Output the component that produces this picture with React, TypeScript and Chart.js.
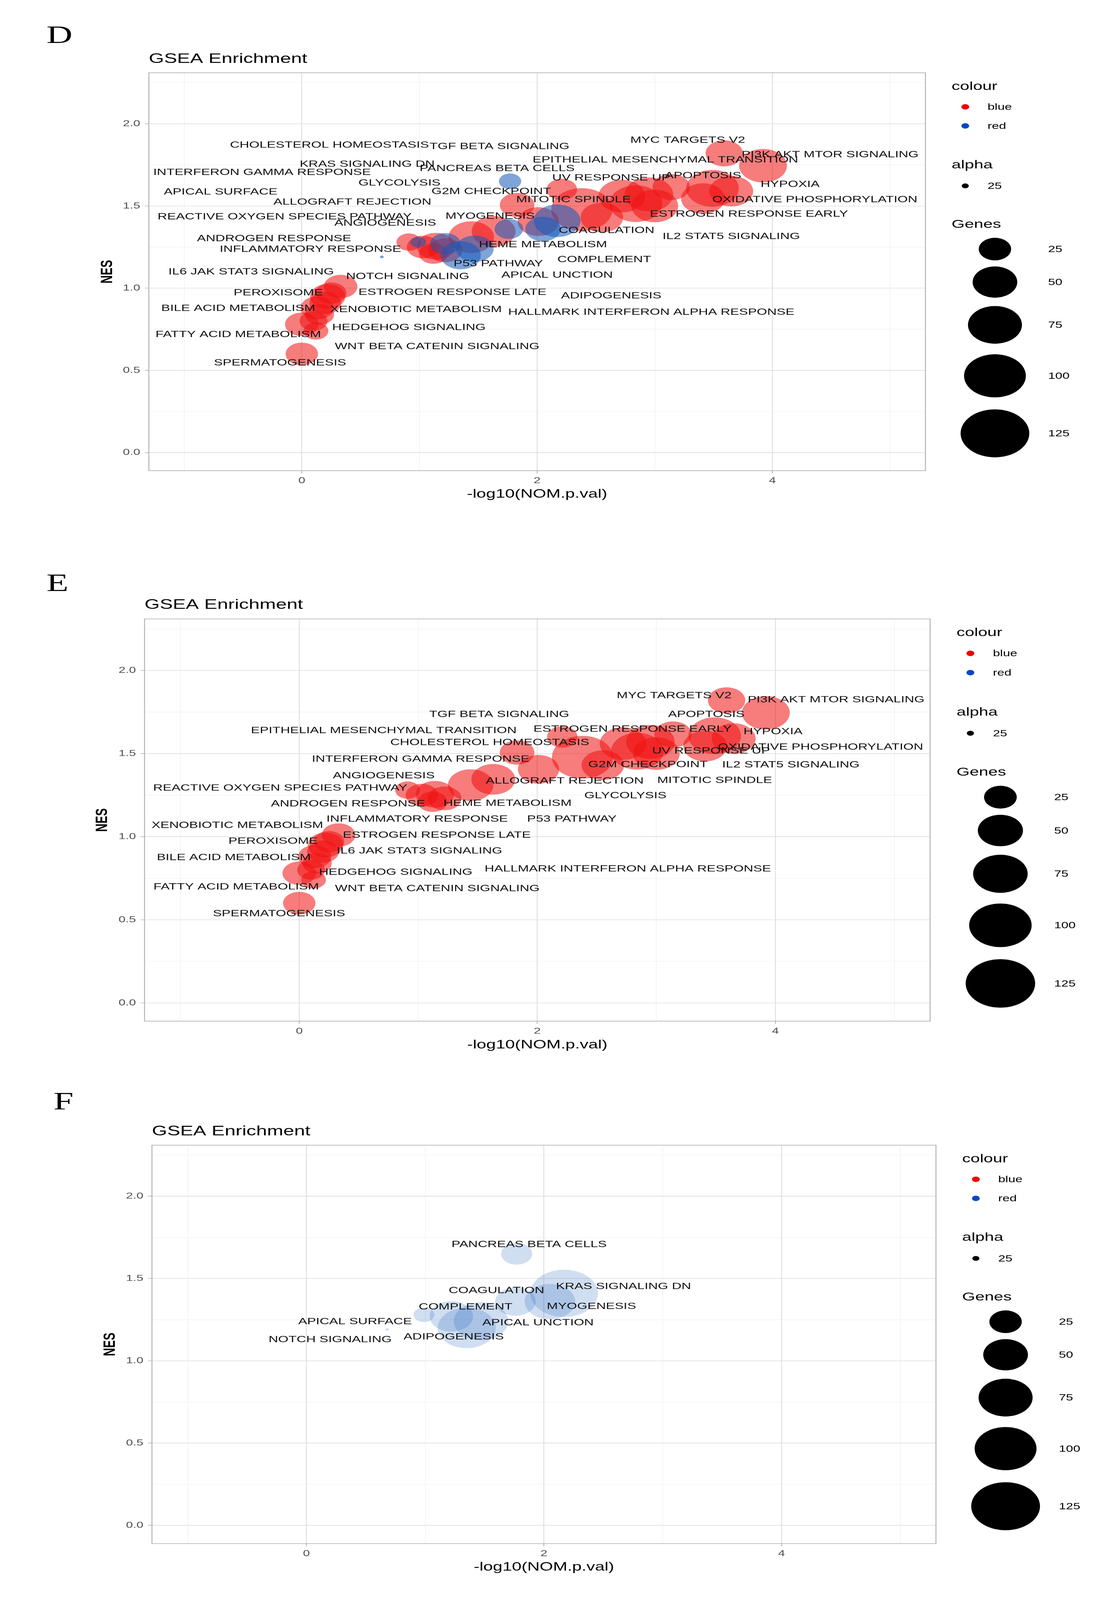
import React, { useEffect, useRef } from "react";
import { Chart, registerables } from "chart.js";

Chart.register(...registerables);

// ---------------- DATA ----------------
const SETS = [
  "MYC TARGETS V2", "PI3K AKT MTOR SIGNALING", "APOPTOSIS", "HYPOXIA", "OXIDATIVE PHOSPHORYLATION",
  "UV RESPONSE UP", "ESTROGEN RESPONSE EARLY", "IL2 STAT5 SIGNALING", "G2M CHECKPOINT", "MITOTIC SPINDLE",
  "EPITHELIAL MESENCHYMAL TRANSITION", "TGF BETA SIGNALING", "GLYCOLYSIS", "ALLOGRAFT REJECTION", "CHOLESTEROL HOMEOSTASIS",
  "INTERFERON GAMMA RESPONSE", "ANGIOGENESIS", "HEME METABOLISM", "REACTIVE OXYGEN SPECIES PATHWAY", "ANDROGEN RESPONSE",
  "INFLAMMATORY RESPONSE", "P53 PATHWAY", "XENOBIOTIC METABOLISM", "PEROXISOME", "ESTROGEN RESPONSE LATE",
  "BILE ACID METABOLISM", "IL6 JAK STAT3 SIGNALING", "HALLMARK INTERFERON ALPHA RESPONSE", "HEDGEHOG SIGNALING", "FATTY ACID METABOLISM",
  "WNT BETA CATENIN SIGNALING", "SPERMATOGENESIS",
  "PANCREAS BETA CELLS", "KRAS SIGNALING DN", "MYOGENESIS", "COAGULATION", "COMPLEMENT",
  "APICAL SURFACE", "APICAL UNCTION", "NOTCH SIGNALING", "ADIPOGENESIS",
];

const NEG_LOG10_P = [
  3.59, 3.92, 3.14, 3.65, 3.49, 3.41, 2.95, 3.0, 2.84, 2.72,
  2.38, 2.21, 2.55, 2.01, 1.83, 1.63, 1.44, 1.14, 0.91, 1.03,
  1.12, 1.22, 0.25, 0.22, 0.33, 0.13, 0.2, 0.15, 0.1, 0.0,
  0.12, 0.0,
  1.77, 2.17, 2.05, 1.76, 1.22, 0.99, 1.47, 0.68, 1.35,
];

const NES = [
  1.82, 1.745, 1.615, 1.59, 1.607, 1.545, 1.57, 1.5, 1.514, 1.56,
  1.478, 1.6, 1.43, 1.405, 1.506, 1.345, 1.31, 1.255, 1.28, 1.25,
  1.21, 1.23, 0.97, 0.95, 1.01, 0.88, 0.91, 0.84, 0.8, 0.78,
  0.74, 0.6,
  1.65, 1.41, 1.36, 1.36, 1.27, 1.28, 1.24, 1.19, 1.2,
];

const GENES = [
  34, 58, 34, 48, 71, 48, 60, 55, 71, 55,
  98, 22, 45, 42, 29, 48, 52, 36, 14, 25,
  20, 28, 22, 30, 27, 26, 24, 20, 18, 27,
  14, 25,
  11, 55, 30, 19, 22, 5, 35, 1, 40,
];

// legend category ("colour") of each set
const GROUP = [
  "blue", "blue", "blue", "blue", "blue", "blue", "blue", "blue", "blue", "blue",
  "blue", "blue", "blue", "blue", "blue", "blue", "blue", "blue", "blue", "blue",
  "blue", "blue", "blue", "blue", "blue", "blue", "blue", "blue", "blue", "blue",
  "blue", "blue",
  "red", "red", "red", "red", "red", "red", "red", "red", "red",
];

// label anchors (data units) for each panel, aligned with SETS
const D_LABEL_X = [
  3.28, 4.49, 3.41, 4.15, 4.36, 2.63, 3.8, 3.65, 1.61, 2.31,
  3.09, 1.68, 0.83, 0.43, 0.235, -0.338, 0.71, 2.05, -0.146, -0.235,
  0.073, 1.67, 0.97, -0.2, 1.28, -0.54, -0.43, 2.97, 0.91, -0.54,
  1.15, -0.185,
  1.66, 0.556, 1.6, 2.59, 2.57, -0.69, 2.17, 0.9, 2.63,
];
const D_LABEL_Y = [
  1.9, 1.811, 1.684, 1.631, 1.538, 1.671, 1.45, 1.315, 1.588, 1.538,
  1.78, 1.862, 1.639, 1.523, 1.869, 1.704, 1.396, 1.265, 1.434, 1.301,
  1.237, 1.149, 0.871, 0.972, 0.975, 0.877, 1.099, 0.853, 0.76, 0.717,
  0.644, 0.545,
  1.727, 1.753, 1.437, 1.351, 1.174, 1.584, 1.079, 1.071, 0.953,
];
const E_LABEL_X = [
  3.15, 4.51, 3.42, 3.98, 4.38, 3.46, 2.8, 4.13, 2.93, 3.49,
  0.71, 1.68, 2.74, 2.23, 1.6, 1.02, 0.71, 1.75, -0.16, 0.41,
  0.99, 2.29, -0.52, -0.22, 1.155, -0.55, 1.01, 2.76, 0.81, -0.53,
  1.16, -0.17,
  null, null, null, null, null, null, null, null, null,
];
const E_LABEL_Y = [
  1.848, 1.823, 1.735, 1.632, 1.539, 1.516, 1.647, 1.431, 1.434, 1.339,
  1.638, 1.735, 1.246, 1.335, 1.567, 1.467, 1.366, 1.2, 1.292, 1.197,
  1.105, 1.105, 1.068, 0.973, 1.009, 0.875, 0.914, 0.806, 0.786, 0.697,
  0.687, 0.536,
  null, null, null, null, null, null, null, null, null,
];
const F_LABEL_X = [
  null, null, null, null, null, null, null, null, null, null,
  null, null, null, null, null, null, null, null, null, null,
  null, null, null, null, null, null, null, null, null, null,
  null, null,
  1.875, 2.67, 2.4, 1.6, 1.34, 0.41, 1.95, 0.2, 1.24,
];
const F_LABEL_Y = [
  null, null, null, null, null, null, null, null, null, null,
  null, null, null, null, null, null, null, null, null, null,
  null, null, null, null, null, null, null, null, null, null,
  null, null,
  1.706, 1.451, 1.331, 1.426, 1.327, 1.238, 1.232, 1.129, 1.146,
];

const X_TICKS = [0, 2, 4];
const Y_TICKS = [0, 0.5, 1, 1.5, 2];
const GENE_BREAKS = [25, 50, 75, 100, 125];
const COLOUR_KEYS = ["blue", "red"];
const ALPHA_KEYS = ["25"];

// ---------------- STYLE / LAYOUT ----------------
const W = 2862;
const H = 5871;
const PH = 1957;
const FONT = '"Liberation Sans", Arial, Helvetica, sans-serif';
const BASE_RGB: Record<string, [number, number, number]> = {
  blue: [240, 16, 16],
  red: [20, 90, 185],
};
const KEY_COLOUR: Record<string, string> = { blue: "#f20000", red: "#0a46c4" };

type Panel = {
  letter: string;
  top: number;
  letterX: number;
  letterBaseline: number;
  area: { l: number; t: number; r: number; b: number };
  show: string;
  alpha: number;
  sizeMul: number;
  sizeAdd: number;
  lx: (number | null)[];
  ly: (number | null)[];
};

const PANELS: Panel[] = [
  { letter: "D", top: 0, letterX: 119, letterBaseline: 158, area: { l: 381, t: 267, r: 2369, b: 1727 }, show: "all", alpha: 0.55, sizeMul: 1, sizeAdd: 0, lx: D_LABEL_X, ly: D_LABEL_Y },
  { letter: "E", top: 1957, letterX: 119, letterBaseline: 211, area: { l: 370, t: 314, r: 2381, b: 1790 }, show: "blue", alpha: 0.55, sizeMul: 1, sizeAdd: 0, lx: E_LABEL_X, ly: E_LABEL_Y },
  { letter: "F", top: 3914, letterX: 137, letterBaseline: 156, area: { l: 389, t: 288, r: 2396, b: 1750 }, show: "red", alpha: 0.2, sizeMul: 1.5, sizeAdd: -6, lx: F_LABEL_X, ly: F_LABEL_Y },
];

function geneDiameter(g: number) {
  return 10 + 14.9 * Math.sqrt(Math.max(g - 1, 0));
}

function isOn(v: number, list: number[]) {
  return list.some((t) => Math.abs(t - v) < 1e-6);
}

function rgba(grp: string, a: number) {
  const c = BASE_RGB[grp];
  return `rgba(${c[0]},${c[1]},${c[2]},${a})`;
}

function makeConfig(p: Panel): any {
  const idx = SETS.map((_, i) => i).filter((i) => p.show === "all" || GROUP[i] === p.show);
  const data = idx.map((i) => ({
    x: NEG_LOG10_P[i],
    y: NES[i],
    r: (geneDiameter(GENES[i]) * p.sizeMul + p.sizeAdd) / 2,
    grp: GROUP[i],
    name: SETS[i],
  }));
  const A = p.area;
  const YW = 150;
  const XH = 120;
  const s = (A.b - A.t) / 1460;

  const decor = {
    id: "decor" + p.letter,
    afterDatasetsDraw(chart: any) {
      const ctx = chart.ctx;
      const ca = chart.chartArea;
      const xs = chart.scales.x;
      const ys = chart.scales.y;
      ctx.save();
      ctx.beginPath();
      ctx.rect(ca.left, ca.top, ca.right - ca.left, ca.bottom - ca.top);
      ctx.clip();
      ctx.fillStyle = "#111111";
      ctx.font = `34px ${FONT}`;
      ctx.textAlign = "center";
      ctx.textBaseline = "middle";
      SETS.forEach((name, i) => {
        const lx = p.lx[i];
        const ly = p.ly[i];
        if (lx === null || ly === null) return;
        ctx.fillText(name, xs.getPixelForValue(lx), ys.getPixelForValue(ly));
      });
      ctx.restore();
    },
    afterDraw(chart: any) {
      const ctx = chart.ctx;
      const ca = chart.chartArea;
      ctx.save();
      ctx.strokeStyle = "#b3b3b3";
      ctx.lineWidth = 2.5;
      ctx.strokeRect(ca.left, ca.top, ca.right - ca.left, ca.bottom - ca.top);
      ctx.fillStyle = "#000000";
      ctx.textAlign = "left";
      ctx.textBaseline = "middle";
      ctx.font = `50px ${FONT}`;
      ctx.fillText("GSEA Enrichment", ca.left, ca.top - 50 * s);
      ctx.textAlign = "center";
      ctx.font = `44px ${FONT}`;
      ctx.fillText("-log10(NOM.p.val)", (ca.left + ca.right) / 2, ca.bottom + 87 * s);
      ctx.save();
      ctx.translate(ca.left - 106 * s, (ca.top + ca.bottom) / 2);
      ctx.rotate(-Math.PI / 2);
      ctx.font = `bold 42px ${FONT}`;
      ctx.fillText("NES", 0, 0);
      ctx.restore();

      const fx = (dx: number) => ca.right + dx * s;
      const fy = (dy: number) => ca.top + dy * s;
      ctx.textAlign = "left";
      ctx.textBaseline = "middle";
      ctx.fillStyle = "#000";
      ctx.font = `43px ${FONT}`;
      ctx.fillText("colour", fx(67), fy(51));
      const colourY = [125, 195];
      COLOUR_KEYS.forEach((k, j) => {
        ctx.fillStyle = KEY_COLOUR[k];
        ctx.beginPath();
        ctx.arc(fx(102), fy(colourY[j]), 10 * s, 0, Math.PI * 2);
        ctx.fill();
        ctx.fillStyle = "#000";
        ctx.font = `33px ${FONT}`;
        ctx.fillText(k, fx(159), fy(colourY[j]) + 2);
      });
      ctx.font = `43px ${FONT}`;
      ctx.fillText("alpha", fx(67), fy(339));
      ALPHA_KEYS.forEach((k) => {
        ctx.fillStyle = "#000";
        ctx.beginPath();
        ctx.arc(fx(102), fy(415), 9 * s, 0, Math.PI * 2);
        ctx.fill();
        ctx.font = `33px ${FONT}`;
        ctx.fillText(k, fx(159), fy(415) + 2);
      });
      ctx.font = `43px ${FONT}`;
      ctx.fillText("Genes", fx(67), fy(557));
      const sizeY = [647, 768, 925, 1112, 1323];
      GENE_BREAKS.forEach((g, j) => {
        ctx.fillStyle = "#000";
        ctx.beginPath();
        ctx.arc(fx(178), fy(sizeY[j]), (geneDiameter(g) / 2) * s, 0, Math.PI * 2);
        ctx.fill();
        ctx.font = `33px ${FONT}`;
        ctx.fillText(String(g), fx(314), fy(sizeY[j]) + 2);
      });
      ctx.restore();
    },
  };

  const gridOpts = (major: number[]) => ({
    color: (c: any) => (c.tick && isOn(c.tick.value, major) ? "#dddddd" : "#efefef"),
    lineWidth: (c: any) => (c.tick && isOn(c.tick.value, major) ? 2.2 : 1.4),
    drawTicks: true,
    tickLength: 10,
    tickWidth: 2,
    tickColor: (c: any) => (c.tick && isOn(c.tick.value, major) ? "#ababab" : "rgba(0,0,0,0)"),
  });

  return {
    type: "bubble",
    data: {
      datasets: [
        {
          data,
          backgroundColor: (c: any) => rgba(c.raw ? c.raw.grp : "blue", p.alpha),
          borderWidth: 0,
          borderColor: "rgba(0,0,0,0)",
        },
      ],
    },
    options: {
      animation: false,
      responsive: false,
      devicePixelRatio: 1,
      events: [],
      layout: {
        padding: { left: A.l - YW, top: A.t, right: W - A.r, bottom: PH - A.b - XH },
      },
      plugins: {
        legend: { display: false },
        tooltip: { enabled: false },
        title: { display: false },
      },
      scales: {
        x: {
          type: "linear",
          min: -1.3,
          max: 5.3,
          afterFit: (sc: any) => {
            sc.height = XH;
          },
          ticks: {
            stepSize: 1,
            includeBounds: false,
            autoSkip: false,
            maxRotation: 0,
            padding: 8,
            color: "#4d4d4d",
            font: { family: FONT, size: 32 },
            callback: (v: any) => (isOn(Number(v), X_TICKS) ? String(Math.round(Number(v))) : ""),
          },
          grid: gridOpts(X_TICKS),
          border: { display: false },
        },
        y: {
          type: "linear",
          min: -0.11,
          max: 2.31,
          afterFit: (sc: any) => {
            sc.width = YW;
          },
          ticks: {
            stepSize: 0.25,
            includeBounds: false,
            autoSkip: false,
            padding: 12,
            color: "#4d4d4d",
            font: { family: FONT, size: 32 },
            callback: (v: any) => (isOn(Number(v), Y_TICKS) ? Number(v).toFixed(1) : ""),
          },
          grid: gridOpts(Y_TICKS),
          border: { display: false },
        },
      },
    },
    plugins: [decor],
  };
}

function PanelChart({ p }: { p: Panel }) {
  const ref = useRef<HTMLCanvasElement | null>(null);
  useEffect(() => {
    if (!ref.current) return;
    const chart = new Chart(ref.current, makeConfig(p));
    return () => chart.destroy();
  }, [p]);
  return (
    <>
      <canvas
        ref={ref}
        width={W}
        height={PH}
        style={{ position: "absolute", left: 0, top: p.top, width: W, height: PH }}
      />
      <div
        style={{
          position: "absolute",
          left: p.letterX,
          top: p.top + p.letterBaseline - 77,
          fontFamily: '"Liberation Serif", "Times New Roman", serif',
          fontSize: 92,
          lineHeight: "92px",
          color: "#000",
          whiteSpace: "nowrap",
        }}
      >
        {p.letter}
      </div>
    </>
  );
}

export default function App() {
  // the figure is 2862 x 5871; if the browser viewport is shorter, fit the whole figure into it
  const vh = typeof window !== "undefined" && window.innerHeight ? window.innerHeight : H;
  const k = Math.min(1, vh / H);
  return (
    <div
      style={{
        position: "absolute",
        left: 0,
        top: 0,
        width: W,
        height: H,
        background: "#ffffff",
        overflow: "hidden",
        transform: `scale(1, ${k})`,
        transformOrigin: "0 0",
      }}
    >
      {PANELS.map((p) => (
        <PanelChart key={p.letter} p={p} />
      ))}
    </div>
  );
}
